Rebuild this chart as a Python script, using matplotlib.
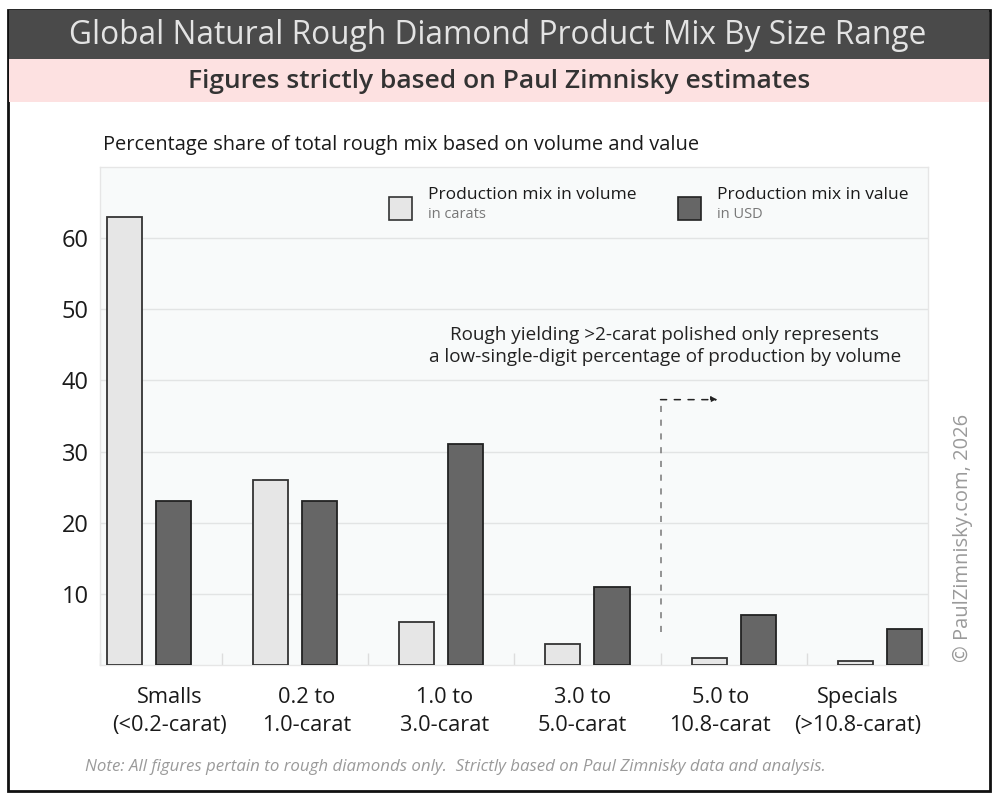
import numpy as np
from matplotlib import pyplot as plt
from matplotlib.patches import Rectangle

plt.rcParams['font.family'] = ['Open Sans', 'DejaVu Sans']

# data
categories = ['Smalls\n(<0.2-carat)', '0.2 to\n1.0-carat', '1.0 to\n3.0-carat',
              '3.0 to\n5.0-carat', '5.0 to\n10.8-carat', 'Specials\n(>10.8-carat)']
volume_pct = [63, 26, 6, 3, 1, 0.5]
value_pct = [23, 23, 31, 11, 7, 5]
y_ticks = [10, 20, 30, 40, 50, 60]

title = 'Global Natural Rough Diamond Product Mix By Size Range'
subtitle = 'Figures strictly based on Paul Zimnisky estimates'
axis_note = 'Percentage share of total rough mix based on volume and value'
callout = 'Rough yielding >2-carat polished only represents\na low-single-digit percentage of production by volume'
footnote = 'Note: All figures pertain to rough diamonds only.  Strictly based on Paul Zimnisky data and analysis.'
credit = '\u00a9 PaulZimnisky.com, 2026'

light = '#e6e6e6'
dark = '#666666'

fig = plt.figure(figsize=(10, 8), dpi=100)
fig.patch.set_facecolor('white')

# frame and header bands (figure pixel coords -> fraction)
W, H = 1000.0, 800.0
fig.patches.append(Rectangle((8 / W, 1 - 791 / H), 982 / W, 781 / H, transform=fig.transFigure,
                             fill=False, edgecolor='#111111', linewidth=2, zorder=0))
fig.patches.append(Rectangle((9 / W, 1 - 59 / H), 980 / W, 49 / H, transform=fig.transFigure,
                             facecolor='#4a4a4a', edgecolor='none', zorder=0))
fig.patches.append(Rectangle((9 / W, 1 - 102 / H), 980 / W, 43 / H, transform=fig.transFigure,
                             facecolor='#fde1e1', edgecolor='none', zorder=0))

fig.text(0.498, 1 - 36 / H, title, ha='center', va='center', color='#e3e3e3', fontsize=22.8,
         fontweight='medium')
fig.text(0.499, 1 - 81 / H, subtitle, ha='center', va='center', color='#333333', fontsize=19,
         fontweight='semibold')
fig.text(103 / W, 1 - 145 / H, axis_note, ha='left', va='center', color='#1a1a1a', fontsize=14.4)
fig.text(85 / W, 1 - 767 / H, footnote, ha='left', va='center', color='#9a9a9a',
         fontsize=12.2, style='italic')
fig.text(963 / W, 1 - 538 / H, credit, ha='center', va='center', color='#9a9a9a',
         fontsize=14.5, rotation=90)

ax = fig.add_axes([100 / W, 1 - 665 / H, 828 / W, 498 / H])
ax.set_facecolor('#f8fafa')
for s in ax.spines.values():
    s.set_color('#e6e6e6')
    s.set_linewidth(1)

x = np.arange(len(categories))
bw = 0.24
off = 0.168
ax.bar(x - off, volume_pct, bw, color=light, edgecolor='#333333', linewidth=1.3, zorder=3)
ax.bar(x + off, value_pct, bw, color=dark, edgecolor='#222222', linewidth=1.3, zorder=3)

ax.set_xlim(-0.335, 5.33)
ax.set_ylim(0, 70)
ax.set_yticks(y_ticks)
ax.set_yticklabels([str(t) for t in y_ticks], fontsize=17, color='#1a1a1a')
ax.yaxis.grid(True, color='#e2e4e4', linewidth=1, zorder=0)
ax.tick_params(axis='y', length=0, pad=8)

# category labels sit on a slightly narrower spacing than the bar groups
ax.set_xticks(np.linspace(0.14, 4.85, len(categories)))
ax.set_xticklabels(categories, fontsize=15.7, color='#1a1a1a', linespacing=1.45)
ax.tick_params(axis='x', length=0, pad=16)
# small separators between groups
ax.set_xticks(np.append(x[:-1] + 0.5, -0.335), minor=True)
ax.tick_params(axis='x', which='minor', direction='in', length=9, color='#dddddd', width=1)

# legend drawn by hand
leg = [(389, light, '#333333', 'Production mix in volume', 'in carats'),
       (678, dark, '#222222', 'Production mix in value', 'in USD')]
for px, fc, ec, lab, sub in leg:
    fig.patches.append(Rectangle((px / W, 1 - 220 / H), 23 / W, 23 / H, transform=fig.transFigure,
                                 facecolor=fc, edgecolor=ec, linewidth=1.2, zorder=5))
    fig.text((px + 39) / W, 1 - 195 / H, lab, ha='left', va='center', color='#1a1a1a', fontsize=12.5)
    fig.text((px + 39) / W, 1 - 215 / H, sub, ha='left', va='center', color='#777777', fontsize=10.5)

ax.text(3.53, 44.8, callout, ha='center', va='center', fontsize=13.6, color='#222222',
        linespacing=1.3, zorder=4)
ax.plot([3.5, 3.5], [4.6, 37.3], color='#777777', linestyle=(0, (4, 5)), linewidth=1.1, zorder=4)
ax.annotate('', xy=(3.89, 37.3), xytext=(3.5, 37.3),
            arrowprops=dict(arrowstyle='-|>', color='#222222', linestyle=(0, (4, 5)),
                            linewidth=1.1, mutation_scale=9, shrinkA=0, shrinkB=0), zorder=4)

fig.savefig('out.png', dpi=100)
